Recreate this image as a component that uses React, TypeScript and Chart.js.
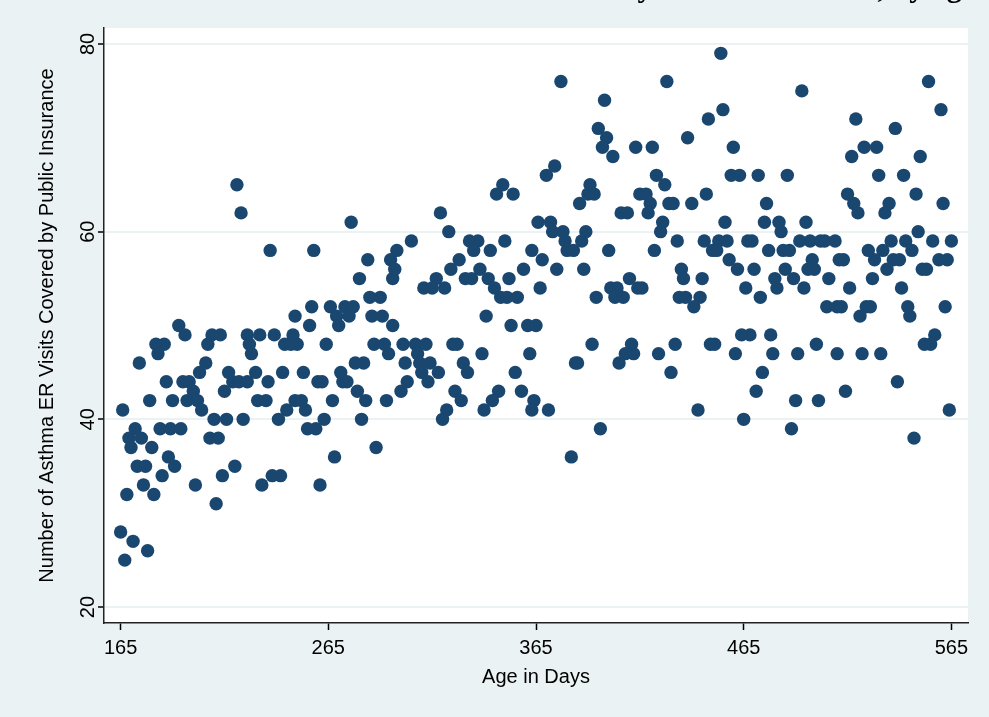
import { useEffect, useRef } from "react";
import { Chart, registerables } from "chart.js";

Chart.register(...registerables);

const ageDays = [
  193, 196, 209, 213, 207, 182, 186, 183, 174, 206, 203, 217, 187, 195, 198, 219, 222, 226, 200, 215,
  179, 190, 197, 202, 204, 166, 210, 216, 224, 172, 184, 189, 194, 169, 175, 208, 212, 170, 180, 188,
  191, 173, 177, 220, 185, 214, 176, 201, 168, 181, 211, 165, 171, 178, 167, 226, 227, 228, 221, 223,
  276, 237, 258, 284, 295, 280, 296, 285, 290, 298, 249, 257, 266, 273, 277, 269, 275, 286, 291, 256,
  270, 296, 232, 239, 248, 244, 247, 250, 264, 287, 292, 294, 278, 282, 230, 243, 253, 271, 236, 260,
  262, 272, 274, 279, 231, 235, 249, 252, 267, 283, 293, 245, 254, 241, 263, 281, 255, 259, 288, 268,
  238, 242, 233, 261,
  349, 346, 354, 319, 323, 366, 305, 297, 333, 337, 335, 343, 350, 363, 368, 328, 324, 338, 359, 331,
  334, 317, 342, 352, 311, 315, 321, 345, 367, 348, 351, 356, 341, 353, 361, 365, 301, 307, 312, 325,
  327, 308, 339, 362, 302, 309, 314, 330, 310, 318, 332, 355, 303, 313, 300, 326, 347, 358, 329, 344,
  364, 322, 340, 363, 320,
  377, 428, 398, 395, 399, 397, 402, 413, 421, 438, 374, 370, 423, 427, 391, 390, 393, 386, 415, 418,
  420, 429, 431, 406, 409, 419, 426, 425, 433, 372, 373, 378, 379, 380, 383, 387, 389, 400, 422, 375,
  388, 435, 436, 410, 401, 404, 414, 416, 394, 403, 407, 434, 437, 392, 411, 432, 384, 385, 405, 408,
  412, 424, 430, 371, 396, 382,
  454, 493, 455, 448, 460, 459, 463, 472, 486, 447, 440, 476, 456, 475, 482, 483, 495, 446, 453, 457,
  467, 469, 492, 497, 502, 504, 450, 452, 477, 484, 487, 458, 498, 462, 470, 485, 496, 499, 445, 480,
  489, 506, 466, 481, 494, 444, 473, 441, 505, 449, 451, 464, 468, 478, 461, 479, 491, 500, 474, 471,
  490, 501, 443, 465, 488,
  554, 560, 519, 538, 523, 529, 517, 550, 530, 542, 515, 548, 518, 535, 561, 520, 533, 549, 509, 536,
  543, 556, 565, 525, 532, 546, 511, 513, 528, 537, 540, 559, 563, 534, 551, 553, 527, 516, 541, 510,
  512, 524, 526, 544, 562, 521, 545, 557, 555, 552, 510, 522, 531, 539, 514, 564, 547,
];

const visits = [
  50, 49, 49, 49, 48, 48, 48, 47, 46, 46, 45, 45, 44, 44, 44, 44, 44, 44, 43, 43,
  42, 42, 42, 42, 41, 41, 40, 40, 40, 39, 39, 39, 39, 38, 38, 38, 38, 37, 37, 36,
  35, 35, 35, 35, 34, 34, 33, 33, 32, 32, 31, 28, 27, 26, 25, 49, 48, 47, 65, 62,
  61, 58, 58, 57, 57, 55, 55, 53, 53, 58, 51, 52, 52, 52, 52, 51, 51, 51, 51, 50,
  50, 50, 49, 49, 49, 48, 48, 48, 48, 48, 48, 47, 46, 46, 45, 45, 45, 45, 44, 44,
  44, 44, 44, 43, 42, 42, 42, 42, 42, 42, 42, 41, 41, 40, 40, 40, 39, 39, 37, 36,
  34, 34, 33, 33,
  65, 64, 64, 62, 60, 61, 59, 56, 59, 59, 58, 58, 59, 58, 57, 57, 56, 56, 56, 55,
  55, 55, 55, 55, 54, 54, 54, 54, 54, 53, 53, 53, 51, 50, 50, 50, 48, 48, 48, 48,
  48, 47, 47, 47, 46, 46, 46, 46, 45, 45, 45, 45, 44, 44, 43, 43, 43, 43, 42, 42,
  42, 41, 41, 41, 40,
  76, 76, 74, 71, 70, 69, 68, 69, 69, 70, 67, 66, 66, 65, 65, 64, 64, 63, 64, 64,
  63, 63, 63, 62, 62, 62, 61, 60, 59, 61, 60, 60, 59, 58, 58, 59, 60, 58, 58, 56,
  56, 56, 55, 55, 54, 54, 54, 54, 53, 53, 53, 53, 53, 48, 48, 48, 46, 46, 46, 47,
  47, 47, 45, 41, 39, 36,
  79, 75, 73, 72, 69, 66, 66, 66, 66, 64, 63, 63, 61, 61, 61, 60, 61, 59, 59, 59,
  59, 59, 59, 59, 59, 59, 58, 58, 58, 58, 58, 57, 57, 56, 56, 56, 56, 56, 55, 55,
  55, 55, 54, 54, 54, 53, 53, 52, 52, 48, 48, 49, 49, 49, 47, 47, 47, 48, 45, 43,
  42, 42, 41, 40, 39,
  76, 73, 72, 71, 69, 69, 68, 68, 66, 66, 64, 64, 63, 63, 63, 62, 62, 60, 59, 59,
  59, 59, 59, 58, 58, 58, 57, 57, 57, 57, 57, 57, 57, 56, 56, 56, 55, 54, 54, 52,
  52, 52, 52, 52, 52, 51, 51, 49, 48, 48, 47, 47, 47, 44, 43, 41, 38,
];

const xTicks = [165, 265, 365, 465, 565];
const yTicks = [20, 40, 60, 80];
const chartTitle = "Asthma ER Visits Covered by Public Insurance, by age";
const xTitle = "Age in Days";
const yTitle = "Number of Asthma ER Visits Covered by Public Insurance";

const SANS = '"Liberation Sans", Arial, Helvetica, sans-serif';

export default function App() {
  const ref = useRef<HTMLCanvasElement>(null);

  useEffect(() => {
    if (!ref.current) return;
    const points = ageDays.map((a, i) => ({ x: a, y: visits[i] }));

    const stataPlugin = {
      id: "stataLook",
      beforeDraw(chart: any) {
        const { ctx, chartArea } = chart;
        ctx.save();
        ctx.fillStyle = "#EAF2F3";
        ctx.fillRect(0, 0, chart.width, chart.height);
        ctx.fillStyle = "#FFFFFF";
        ctx.fillRect(
          chartArea.left,
          chartArea.top,
          chartArea.right - chartArea.left,
          chartArea.bottom - chartArea.top
        );
        ctx.restore();
      },
      afterDraw(chart: any) {
        const { ctx } = chart;
        const ys = chart.scales.y;
        ctx.save();
        ctx.fillStyle = "#000";
        ctx.font = `20px ${SANS}`;
        ctx.textAlign = "center";
        ctx.textBaseline = "middle";
        yTicks.forEach((v) => {
          const py = ys.getPixelForValue(v);
          ctx.save();
          ctx.translate(ys.right - 16, py);
          ctx.rotate(-Math.PI / 2);
          ctx.fillText(String(v), 0, 0);
          ctx.restore();
        });
        ctx.font = 'bold 30px "Liberation Serif", "Times New Roman", serif';
        ctx.textAlign = "right";
        ctx.textBaseline = "alphabetic";
        ctx.fillText(chartTitle, 975, -3);
        ctx.restore();
      },
    };

    const chart = new Chart(ref.current, {
      type: "scatter",
      data: {
        datasets: [
          {
            data: points,
            backgroundColor: "#1A476F",
            borderColor: "#1A476F",
            pointRadius: 6.7,
            pointBorderWidth: 0,
            pointHoverRadius: 6.7,
          },
        ],
      },
      options: {
        responsive: false,
        animation: false,
        devicePixelRatio: 1,
        events: [],
        layout: { padding: { top: 28, right: 21, left: 0, bottom: 0 } },
        plugins: {
          legend: { display: false },
          tooltip: { enabled: false },
          title: { display: false },
        },
        scales: {
          x: {
            type: "linear",
            min: 157,
            max: 573,
            afterBuildTicks: (s: any) => {
              s.ticks = xTicks.map((v) => ({ value: v }));
            },
            afterFit: (s: any) => {
              s.height = 94;
            },
            ticks: {
              font: { size: 20, family: SANS },
              color: "#000",
              padding: 6,
              autoSkip: false,
              maxRotation: 0,
              minRotation: 0,
            },
            grid: {
              drawOnChartArea: false,
              drawTicks: true,
              tickLength: 7,
              tickColor: "#000",
              tickWidth: 1.5,
            },
            border: { display: true, color: "#222", width: 1.5 },
            title: {
              display: true,
              text: xTitle,
              color: "#000",
              font: { size: 20, family: SANS },
              padding: { top: 0, bottom: 28 },
            },
          },
          y: {
            type: "linear",
            min: 18.3,
            max: 81.7,
            afterBuildTicks: (s: any) => {
              s.ticks = yTicks.map((v) => ({ value: v }));
            },
            afterFit: (s: any) => {
              s.width = 104;
            },
            ticks: { display: false },
            grid: {
              color: "#EAF2F3",
              lineWidth: 2,
              drawTicks: true,
              tickLength: 6,
              tickColor: "#000",
              tickWidth: 1.5,
            },
            border: { display: true, color: "#222", width: 1.5 },
            title: {
              display: true,
              text: yTitle,
              color: "#000",
              font: { size: 20, family: SANS },
              padding: { top: 35, bottom: 0 },
            },
          },
        },
      },
      plugins: [stataPlugin],
    });

    return () => chart.destroy();
  }, []);

  return (
    <div
      style={{
        position: "fixed",
        left: 0,
        top: 0,
        width: 989,
        height: 717,
        background: "#EAF2F3",
      }}
    >
      <canvas ref={ref} width={989} height={717} style={{ display: "block" }} />
    </div>
  );
}
